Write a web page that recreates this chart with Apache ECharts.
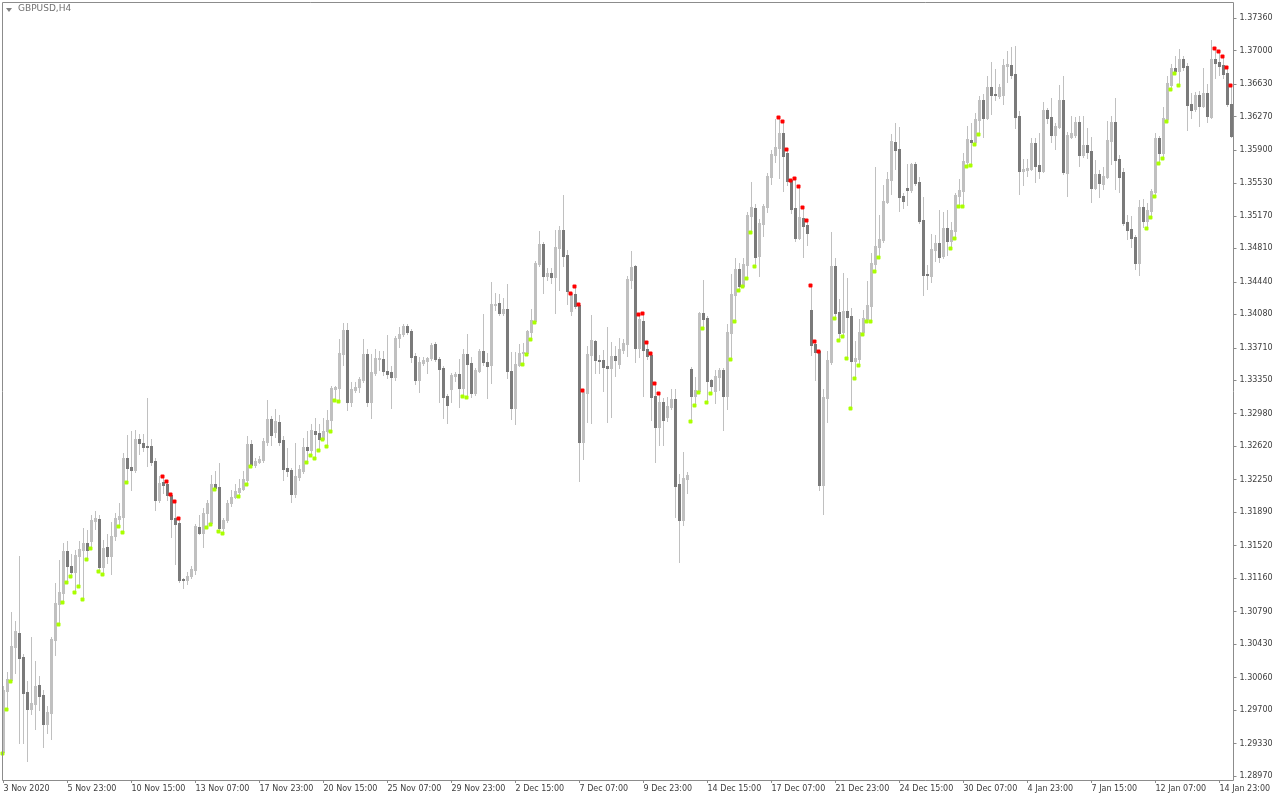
<!DOCTYPE html>
<html>
<head>
<meta charset="utf-8">
<script src="https://cdn.jsdelivr.net/npm/echarts@6/dist/echarts.min.js"></script>
<style>html,body{margin:0;padding:0;background:#fff;}#chart{width:1280px;height:800px;}</style>
</head>
<body>
<div id="chart"></div>
<script>
const symbolName = 'GBPUSD,H4';
const tickLabels = ['3 Nov 2020','5 Nov 23:00','10 Nov 15:00','13 Nov 07:00','17 Nov 23:00','20 Nov 15:00','25 Nov 07:00','29 Nov 23:00','2 Dec 15:00','7 Dec 07:00','9 Dec 23:00','14 Dec 15:00','17 Dec 07:00','21 Dec 23:00','24 Dec 15:00','30 Dec 07:00','4 Jan 23:00','7 Jan 15:00','12 Jan 07:00','14 Jan 23:00'];
const priceTicks = [1.28970,1.29330,1.29700,1.30060,1.30430,1.30790,1.31160,1.31520,1.31890,1.32250,1.32620,1.32980,1.33350,1.33710,1.34080,1.34440,1.34810,1.35170,1.35530,1.35900,1.36270,1.36630,1.37000,1.37360];

const open = [
1.2923,1.2991,1.3003,1.3040,1.3055,1.3029,1.2990,1.2971,1.2977,1.2998,
1.2987,1.2955,1.2967,1.3048,1.3087,1.3100,1.3146,1.3129,1.3123,1.3141,
1.3147,1.3155,1.3157,1.3179,1.3181,1.3128,1.3150,1.3141,1.3163,1.3182,
1.3184,1.3249,1.3239,1.3236,1.3270,1.3266,1.3262,1.3262,1.3246,1.3202,
1.3222,1.3220,1.3208,1.3183,1.3177,1.3115,1.3114,1.3118,1.3125,1.3173,
1.3166,1.3188,1.3177,1.3220,1.3217,1.3172,1.3180,1.3199,1.3206,1.3211,
1.3215,1.3225,1.3264,1.3241,1.3245,1.3247,1.3267,1.3292,1.3278,1.3289,
1.3269,1.3238,1.3236,1.3209,1.3228,1.3235,1.3261,1.3258,1.3279,1.3277,
1.3270,1.3279,1.3291,1.3325,1.3326,1.3364,1.3391,1.3311,1.3324,1.3328,
1.3335,1.3364,1.3311,1.3343,1.3359,1.3359,1.3345,1.3344,1.3339,1.3382,
1.3386,1.3395,1.3390,1.3362,1.3335,1.3354,1.3356,1.3360,1.3375,1.3359,
1.3349,1.3318,1.3325,1.3340,1.3342,1.3326,1.3364,1.3354,1.3321,1.3345,
1.3367,1.3355,1.3352,1.3418,1.3421,1.3410,1.3414,1.3345,1.3304,1.3352,
1.3365,1.3365,1.3388,1.3401,1.3464,1.3486,1.3450,1.3454,1.3449,1.3481,
1.3501,1.3474,1.3412,1.3431,1.3418,1.3267,1.3321,1.3363,1.3379,1.3357,
1.3357,1.3351,1.3349,1.3362,1.3353,1.3369,1.3375,1.3446,1.3462,1.3371,
1.3401,1.3370,1.3363,1.3318,1.3283,1.3311,1.3294,1.3306,1.3314,1.3220,
1.3180,1.3226,1.3348,1.3318,1.3323,1.3410,1.3404,1.3335,1.3323,1.3339,
1.3346,1.3318,1.3387,1.3429,1.3458,1.3439,1.3463,1.3517,1.3526,1.3473,
1.3508,1.3527,1.3560,1.3584,1.3592,1.3609,1.3587,1.3557,1.3526,1.3493,
1.3515,1.3507,1.3413,1.3375,1.3367,1.3219,1.3315,1.3355,1.3462,1.3411,
1.3388,1.3412,1.3406,1.3356,1.3359,1.3388,1.3403,1.3417,1.3464,1.3483,
1.3490,1.3532,1.3557,1.3599,1.3591,1.3539,1.3548,1.3546,1.3574,1.3554,
1.3512,1.3453,1.3450,1.3479,1.3487,1.3473,1.3504,1.3489,1.3500,1.3539,
1.3545,1.3577,1.3601,1.3599,1.3623,1.3645,1.3625,1.3660,1.3652,1.3650,
1.3651,1.3683,1.3684,1.3674,1.3628,1.3567,1.3568,1.3569,1.3598,1.3573,
1.3567,1.3634,1.3627,1.3607,1.3615,1.3645,1.3565,1.3604,1.3607,1.3621,
1.3584,1.3595,1.3589,1.3548,1.3563,1.3552,1.3560,1.3600,1.3621,1.3580,
1.3566,1.3510,1.3502,1.3494,1.3465,1.3527,1.3511,1.3522,1.3544,1.3603,
1.3587,1.3624,1.3662,1.3681,1.3677,1.3691,1.3683,1.3641,1.3635,1.3651,
1.3639,1.3653,1.3627,1.3691,1.3687,1.3684,1.3675,1.3641];

const high = [
1.2997,1.3012,1.3079,1.3069,1.3141,1.3032,1.3002,1.3051,1.3024,1.3008,
1.2992,1.2974,1.3051,1.3111,1.3136,1.3155,1.3157,1.3143,1.3147,1.3157,
1.3171,1.3169,1.3186,1.3190,1.3186,1.3158,1.3165,1.3178,1.3188,1.3199,
1.3255,1.3274,1.3279,1.3280,1.3276,1.3276,1.3315,1.3270,1.3249,1.3229,
1.3229,1.3223,1.3209,1.3201,1.3183,1.3116,1.3123,1.3129,1.3176,1.3186,
1.3194,1.3203,1.3230,1.3235,1.3243,1.3183,1.3203,1.3214,1.3220,1.3226,
1.3235,1.3273,1.3269,1.3249,1.3251,1.3271,1.3313,1.3295,1.3303,1.3297,
1.3273,1.3260,1.3238,1.3266,1.3241,1.3271,1.3279,1.3287,1.3293,1.3287,
1.3293,1.3302,1.3329,1.3329,1.3381,1.3398,1.3398,1.3333,1.3333,1.3339,
1.3381,1.3370,1.3364,1.3370,1.3367,1.3367,1.3385,1.3351,1.3384,1.3394,
1.3397,1.3397,1.3392,1.3365,1.3361,1.3361,1.3361,1.3376,1.3377,1.3361,
1.3351,1.3320,1.3343,1.3344,1.3359,1.3370,1.3386,1.3361,1.3349,1.3370,
1.3408,1.3365,1.3444,1.3432,1.3431,1.3426,1.3442,1.3366,1.3366,1.3375,
1.3376,1.3391,1.3414,1.3467,1.3500,1.3488,1.3459,1.3459,1.3501,1.3506,
1.3540,1.3479,1.3432,1.3439,1.3419,1.3324,1.3373,1.3407,1.3380,1.3363,
1.3369,1.3394,1.3377,1.3373,1.3382,1.3381,1.3450,1.3478,1.3463,1.3408,
1.3410,1.3377,1.3365,1.3332,1.3321,1.3315,1.3317,1.3325,1.3325,1.3231,
1.3256,1.3233,1.3350,1.3339,1.3411,1.3446,1.3406,1.3336,1.3346,1.3349,
1.3349,1.3397,1.3453,1.3470,1.3465,1.3470,1.3521,1.3555,1.3530,1.3514,
1.3530,1.3565,1.3590,1.3624,1.3626,1.3622,1.3591,1.3557,1.3559,1.3550,
1.3527,1.3513,1.3441,1.3379,1.3367,1.3325,1.3367,1.3499,1.3470,1.3425,
1.3454,1.3448,1.3415,1.3379,1.3403,1.3413,1.3445,1.3476,1.3571,1.3518,
1.3551,1.3566,1.3608,1.3620,1.3615,1.3542,1.3574,1.3576,1.3577,1.3560,
1.3538,1.3463,1.3497,1.3496,1.3524,1.3521,1.3524,1.3510,1.3542,1.3558,
1.3587,1.3617,1.3620,1.3631,1.3650,1.3652,1.3672,1.3687,1.3680,1.3663,
1.3691,1.3700,1.3704,1.3705,1.3633,1.3580,1.3580,1.3603,1.3603,1.3609,
1.3643,1.3636,1.3648,1.3620,1.3662,1.3672,1.3610,1.3628,1.3627,1.3628,
1.3628,1.3614,1.3604,1.3579,1.3568,1.3571,1.3622,1.3628,1.3648,1.3584,
1.3570,1.3518,1.3517,1.3496,1.3535,1.3536,1.3531,1.3547,1.3609,1.3605,
1.3638,1.3672,1.3685,1.3694,1.3702,1.3694,1.3686,1.3653,1.3654,1.3655,
1.3681,1.3663,1.3712,1.3703,1.3699,1.3694,1.3682,1.3662];

const low = [
1.2922,1.2971,1.3002,1.3011,1.2933,1.2933,1.2914,1.2966,1.2949,1.2970,
1.2929,1.2945,1.2938,1.3031,1.3065,1.3090,1.3112,1.3118,1.3101,1.3107,
1.3093,1.3137,1.3149,1.3170,1.3124,1.3121,1.3133,1.3121,1.3158,1.3174,
1.3167,1.3222,1.3214,1.3233,1.3253,1.3257,1.3240,1.3241,1.3191,1.3200,
1.3210,1.3203,1.3161,1.3132,1.3112,1.3105,1.3110,1.3116,1.3121,1.3165,
1.3151,1.3173,1.3176,1.3215,1.3168,1.3166,1.3178,1.3196,1.3205,1.3207,
1.3214,1.3220,1.3240,1.3239,1.3244,1.3245,1.3263,1.3263,1.3272,1.3263,
1.3225,1.3229,1.3200,1.3206,1.3225,1.3232,1.3245,1.3252,1.3249,1.3258,
1.3270,1.3262,1.3279,1.3313,1.3312,1.3352,1.3302,1.3307,1.3322,1.3322,
1.3333,1.3307,1.3293,1.3341,1.3346,1.3341,1.3338,1.3304,1.3335,1.3372,
1.3384,1.3386,1.3355,1.3331,1.3322,1.3352,1.3343,1.3357,1.3356,1.3311,
1.3293,1.3288,1.3311,1.3334,1.3305,1.3318,1.3317,1.3317,1.3319,1.3344,
1.3352,1.3315,1.3332,1.3413,1.3407,1.3407,1.3338,1.3292,1.3287,1.3351,
1.3353,1.3364,1.3381,1.3399,1.3462,1.3432,1.3446,1.3443,1.3410,1.3435,
1.3462,1.3420,1.3407,1.3415,1.3224,1.3248,1.3289,1.3288,1.3343,1.3343,
1.3323,1.3289,1.3294,1.3340,1.3349,1.3365,1.3362,1.3437,1.3355,1.3361,
1.3318,1.3359,1.3291,1.3245,1.3263,1.3263,1.3290,1.3303,1.3184,1.3134,
1.3175,1.3210,1.3290,1.3308,1.3322,1.3393,1.3311,1.3321,1.3310,1.3324,
1.3280,1.3303,1.3359,1.3401,1.3435,1.3439,1.3448,1.3499,1.3461,1.3450,
1.3495,1.3521,1.3552,1.3577,1.3559,1.3545,1.3551,1.3520,1.3489,1.3491,
1.3472,1.3485,1.3363,1.3335,1.3214,1.3187,1.3289,1.3353,1.3404,1.3380,
1.3384,1.3360,1.3304,1.3338,1.3352,1.3386,1.3401,1.3401,1.3456,1.3471,
1.3488,1.3531,1.3541,1.3569,1.3522,1.3526,1.3529,1.3543,1.3551,1.3509,
1.3429,1.3436,1.3444,1.3467,1.3466,1.3470,1.3474,1.3481,1.3493,1.3528,
1.3528,1.3572,1.3573,1.3597,1.3608,1.3604,1.3624,1.3630,1.3645,1.3648,
1.3641,1.3665,1.3670,1.3614,1.3541,1.3551,1.3561,1.3568,1.3555,1.3559,
1.3566,1.3620,1.3599,1.3591,1.3614,1.3563,1.3539,1.3603,1.3604,1.3572,
1.3582,1.3581,1.3532,1.3547,1.3538,1.3547,1.3559,1.3575,1.3547,1.3543,
1.3507,1.3491,1.3483,1.3458,1.3452,1.3505,1.3504,1.3516,1.3539,1.3576,
1.3581,1.3622,1.3657,1.3675,1.3662,1.3679,1.3612,1.3625,1.3633,1.3617,
1.3638,1.3621,1.3625,1.3670,1.3673,1.3670,1.3639,1.3604];

const close = [
1.2992,1.3004,1.3041,1.3058,1.3028,1.2989,1.2971,1.2978,1.2997,1.2986,
1.2955,1.2968,1.3049,1.3088,1.3101,1.3146,1.3129,1.3123,1.3142,1.3148,
1.3155,1.3147,1.3180,1.3183,1.3128,1.3149,1.3141,1.3163,1.3183,1.3185,
1.3249,1.3238,1.3236,1.3270,1.3266,1.3261,1.3261,1.3245,1.3202,1.3221,
1.3219,1.3208,1.3182,1.3176,1.3114,1.3114,1.3118,1.3126,1.3174,1.3166,
1.3188,1.3199,1.3220,1.3216,1.3172,1.3180,1.3199,1.3206,1.3212,1.3216,
1.3226,1.3264,1.3241,1.3246,1.3248,1.3268,1.3292,1.3274,1.3290,1.3267,
1.3237,1.3235,1.3209,1.3229,1.3237,1.3261,1.3258,1.3280,1.3276,1.3270,
1.3279,1.3291,1.3326,1.3328,1.3365,1.3391,1.3311,1.3325,1.3328,1.3336,
1.3364,1.3311,1.3344,1.3360,1.3360,1.3345,1.3342,1.3339,1.3382,1.3386,
1.3395,1.3388,1.3361,1.3335,1.3355,1.3357,1.3360,1.3374,1.3359,1.3348,
1.3317,1.3308,1.3341,1.3342,1.3326,1.3364,1.3353,1.3321,1.3346,1.3367,
1.3355,1.3351,1.3420,1.3420,1.3410,1.3414,1.3345,1.3304,1.3353,1.3365,
1.3366,1.3390,1.3402,1.3465,1.3486,1.3450,1.3454,1.3449,1.3483,1.3501,
1.3473,1.3434,1.3432,1.3417,1.3267,1.3322,1.3364,1.3380,1.3357,1.3356,
1.3350,1.3349,1.3362,1.3357,1.3370,1.3376,1.3447,1.3460,1.3371,1.3403,
1.3369,1.3362,1.3317,1.3283,1.3311,1.3291,1.3307,1.3314,1.3218,1.3180,
1.3227,1.3230,1.3318,1.3324,1.3410,1.3403,1.3334,1.3329,1.3340,1.3346,
1.3318,1.3388,1.3431,1.3458,1.3439,1.3464,1.3518,1.3527,1.3472,1.3509,
1.3528,1.3561,1.3586,1.3593,1.3609,1.3583,1.3556,1.3525,1.3493,1.3516,
1.3506,1.3498,1.3374,1.3366,1.3219,1.3317,1.3357,1.3462,1.3410,1.3387,
1.3412,1.3405,1.3356,1.3360,1.3388,1.3404,1.3418,1.3465,1.3484,1.3491,
1.3534,1.3558,1.3600,1.3590,1.3538,1.3534,1.3546,1.3574,1.3553,1.3511,
1.3452,1.3452,1.3480,1.3487,1.3472,1.3504,1.3489,1.3501,1.3540,1.3546,
1.3578,1.3602,1.3599,1.3624,1.3645,1.3625,1.3660,1.3651,1.3651,1.3660,
1.3684,1.3685,1.3673,1.3627,1.3567,1.3569,1.3570,1.3598,1.3572,1.3567,
1.3634,1.3625,1.3607,1.3617,1.3645,1.3566,1.3607,1.3609,1.3621,1.3584,
1.3595,1.3588,1.3548,1.3563,1.3553,1.3561,1.3601,1.3621,1.3579,1.3560,
1.3509,1.3501,1.3493,1.3465,1.3527,1.3511,1.3524,1.3545,1.3603,1.3587,
1.3625,1.3664,1.3681,1.3677,1.3691,1.3682,1.3640,1.3634,1.3651,1.3639,
1.3653,1.3628,1.3691,1.3686,1.3683,1.3674,1.3641,1.3605];

// bars carrying the indicator dots (red at the high, green at the low)
const redDotBars = [40,41,42,43,44,142,143,144,145,159,160,161,162,163,164,194,195,196,197,198,199,200,201,202,203,204,303,304,305,306,307];
const greenDotBars = [0,1,2,14,15,16,17,18,19,20,21,22,24,25,29,30,31,51,52,53,54,55,59,61,62,76,77,78,79,80,81,82,83,84,115,116,130,131,132,133,172,173,174,175,176,177,182,183,184,185,186,187,188,208,209,210,211,212,213,214,215,216,217,218,219,237,238,239,240,241,242,243,244,286,287,288,289,290,291,292,293,294];

const UP = '#c0c0c0', DOWN = '#7a7a7a', WICK = '#c0c0c0', FRAME = '#8c8c8c', TXT = '#3c3c3c';
const barIdx = open.map((_, i) => String(i));
const ohlc = open.map((o, i) => [i, o, high[i], low[i], close[i]]);

function renderCandle(params, api) {
  const i = api.value(0);
  const o = api.value(1), h = api.value(2), l = api.value(3), c = api.value(4);
  const pO = api.coord([i, o]), pC = api.coord([i, c]);
  const yH = Math.round(api.coord([i, h])[1]);
  const yL = Math.round(api.coord([i, l])[1]);
  const cx = Math.floor(pO[0]);
  const top = Math.round(Math.min(pO[1], pC[1]));
  const bot = Math.round(Math.max(pO[1], pC[1]));
  const bull = c >= o;
  return {
    type: 'group',
    children: [
      { type: 'rect', shape: { x: cx, y: yH, width: 1, height: Math.max(1, yL - yH + 1) }, style: { fill: WICK } },
      { type: 'rect', shape: { x: cx - 1, y: top, width: 3, height: Math.max(1, bot - top + 1) }, style: { fill: bull ? UP : DOWN } }
    ]
  };
}

function renderDot(color) {
  return function (params, api) {
    const p = api.coord([api.value(0), api.value(1)]);
    const cx = Math.floor(p[0]) - 1, cy = Math.round(p[1]);
    return { type: 'rect', shape: { x: cx - 1.5, y: cy - 1.5, width: 4, height: 4, r: 1 }, style: { fill: color } };
  };
}

const chart = echarts.init(document.getElementById('chart'), null, { renderer: 'canvas' });
chart.setOption({
  animation: false,
  backgroundColor: '#ffffff',
  grid: { left: 1.5, right: 46.5, top: 2, bottom: 20, containLabel: false },
  xAxis: {
    type: 'category',
    data: barIdx,
    boundaryGap: true,
    axisLine: { show: false },
    axisTick: { show: true, alignWithLabel: true, interval: 15, length: 3, lineStyle: { color: FRAME } },
    axisLabel: {
      interval: 15, align: 'left', margin: 5,
      fontFamily: 'DejaVu Sans', fontSize: 8, color: TXT,
      formatter: (v, idx) => tickLabels[Math.round(idx / 16)] || ''
    },
    splitLine: { show: false }
  },
  yAxis: {
    type: 'value',
    position: 'right',
    min: 1.289254, max: 1.375379,
    scale: true,
    axisLine: { show: false },
    splitLine: { show: false },
    axisTick: { show: true, length: 3, customValues: priceTicks, lineStyle: { color: FRAME } },
    axisLabel: {
      customValues: priceTicks, margin: 6,
      fontFamily: 'DejaVu Sans', fontSize: 8, color: TXT,
      padding: [2, 0, 0, 0],
      formatter: v => v.toFixed(5)
    }
  },
  graphic: [
    { type: 'rect', z: 100, silent: true, shape: { x: 2.5, y: 2.5, width: 1231, height: 778 }, style: { fill: 'none', stroke: FRAME, lineWidth: 1 } },
    { type: 'polygon', z: 100, shape: { points: [[6, 8], [12, 8], [9, 12]] }, style: { fill: '#808080' } },
    { type: 'text', z: 100, x: 18, y: 4, style: { text: symbolName, font: '9px "DejaVu Sans"', fill: '#707070' } }
  ],
  series: [
    {
      type: 'custom',
      renderItem: renderCandle,
      encode: { x: 0, y: [1, 2, 3, 4] },
      data: ohlc,
      z: 2
    },
    {
      type: 'custom',
      renderItem: renderDot('#ff0000'),
      encode: { x: 0, y: 1 },
      data: redDotBars.map(i => [i, high[i]]),
      z: 5
    },
    {
      type: 'custom',
      renderItem: renderDot('#aaff00'),
      encode: { x: 0, y: 1 },
      data: greenDotBars.map(i => [i, low[i]]),
      z: 5
    }
  ]
});
</script>
</body>
</html>
